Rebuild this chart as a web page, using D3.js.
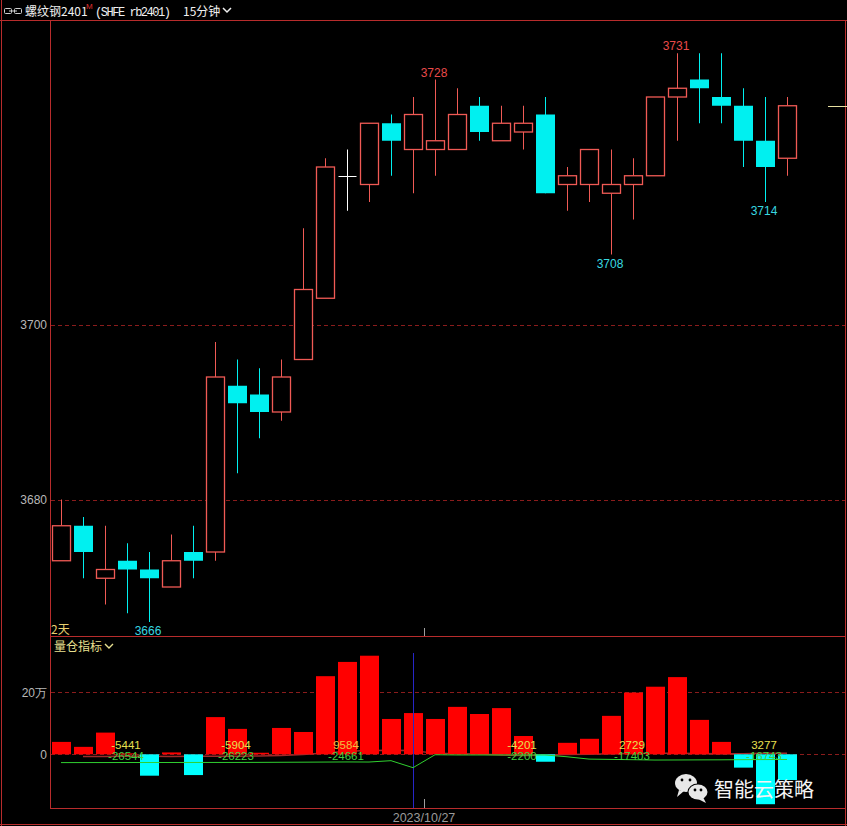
<!DOCTYPE html>
<html>
<head>
<meta charset="utf-8">
<script src="https://cdn.jsdelivr.net/npm/d3@7/dist/d3.min.js"></script>
<style>
html,body{margin:0;padding:0;background:#000;}
svg{display:block;}
</style>
</head>
<body>
<svg id="chart" width="847" height="826"></svg>
<script>
// ---------- data (15-minute bars, 螺纹钢2401) ----------
const open  = [3673,3677,3671,3673,3672,3670,3674,3674,3693,3692,3690,3696,3703,3717,3716,3723,3720,3720,3720,3725,3721,3722,3724,3716,3716,3715,3716,3717,3726,3728,3726,3725,3721,3719];
const close = [3677,3674,3672,3672,3671,3673,3673,3694,3691,3690,3694,3704,3718,3717,3723,3721,3724,3721,3724,3722,3723,3723,3715,3717,3720,3716,3717,3726,3727,3727,3725,3721,3718,3725];
const high  = [3680,3678,3677,3675,3674,3676,3677,3698,3696,3695,3696,3711,3719,3720,3723,3724,3726,3728,3727,3726,3725,3725,3726,3718,3720,3720,3719,3726,3731,3731,3731,3727,3726,3726];
const low   = [3673,3671,3668,3667,3666,3670,3671,3673,3683,3687,3689,3696,3703,3713,3714,3717,3715,3717,3720,3721,3721,3720,3715,3713,3714,3708,3712,3717,3721,3723,3723,3718,3714,3717];
// 仓差 bars
const oiChange = [40000,24000,70000,3000,-69000,6000,-67000,120000,82000,5000,85000,72000,252000,298000,318000,114000,133000,114000,153000,130000,149000,59000,-24000,37000,50000,124000,199000,218000,249000,111000,40000,-43000,-161000,-83000];
// indicator lines
const redLine   = [null,-7000,-7200,-5441,-6500,-6800,-6600,-6000,-5904,-5800,-4000,-1000,4000,9584,12000,13000,12000,3000,1500,1000,-2000,-4201,-3000,-1000,500,1500,2729,3000,3000,2500,2000,1500,3277,3000];
const greenLine = [-26800,-26700,-26650,-26544,-26500,-26450,-26400,-26300,-26223,-26000,-25700,-25400,-25000,-24661,-24900,-20600,-43200,-1500,-2200,-2200,-2200,-2200,-2200,-8000,-15500,-16500,-17403,-18500,-18300,-18000,-17800,-17300,-17000,-16743];
const priceTicks = [3680, 3700];
const oiTicks = [0, 200000];
const oiTickLabels = ["0", "20万"];
const lastPrice = 3725;
const dateLabel = "2023/10/27";
const dateTickIndex = 16.5;
const cursorIndex = 16;
// extreme price annotations: [index, value, type]
const priceMarks = [[4,3666,"low"],[17,3728,"high"],[25,3708,"low"],[28,3731,"high"],[32,3714,"low"]];
// indicator value labels: [index, text, series]
const oiLabels = [[3,"-5441","y"],[3,"-26544","g"],[8,"-5904","y"],[8,"-26223","g"],[13,"9584","o"],[13,"-24661","g"],[21,"-2200","g"],[21,"-4201","y"],[26,"2729","y"],[26,"-17403","g"],[32,"-16743","g"],[32,"3277","y"]];

// ---------- layout ----------
const svg = d3.select("#chart");
const W = 847, H = 826;
const left = 50, right = 845;
const mainTop = 20, mainBottom = 636, subBottom = 808;
const frame = "#b82c2c";
const grid = "#8a1c1c";
const upColor = "#f05a55", downColor = "#00f0f0";

const idx = d3.range(open.length);
const x = d3.scaleBand().domain(idx).range([left, left + idx.length * 22]).paddingInner(0.14).paddingOuter(0.07);
const cx = i => x(i) + x.bandwidth() / 2;
const xc = d3.scaleLinear().domain([0, idx.length - 1]).range([cx(0), cx(idx.length - 1)]);

const y = d3.scaleLinear().domain([3666, 3731]).range([622, 53.25]);
const yv = d3.scaleLinear().domain([0, 200000]).range([754.3, 692.3]);

svg.append("rect").attr("width", W).attr("height", H).attr("fill", "#000");

// frame
const fr = svg.append("g").attr("stroke", frame).attr("stroke-width", 1).attr("fill", "none");
fr.append("line").attr("x1", 1.5).attr("x2", 1.5).attr("y1", 0).attr("y2", H);
fr.append("line").attr("x1", 0).attr("x2", W).attr("y1", 20.5).attr("y2", 20.5);
fr.append("line").attr("x1", left + 0.5).attr("x2", left + 0.5).attr("y1", 20).attr("y2", subBottom);
fr.append("line").attr("x1", left).attr("x2", right).attr("y1", mainBottom + 0.5).attr("y2", mainBottom + 0.5);
fr.append("line").attr("x1", left).attr("x2", right).attr("y1", subBottom + 0.5).attr("y2", subBottom + 0.5);
fr.append("line").attr("x1", 0).attr("x2", W).attr("y1", H - 1.5).attr("y2", H - 1.5);
fr.append("line").attr("x1", right + 0.5).attr("x2", right + 0.5).attr("y1", 20).attr("y2", H);

// header
const hd = svg.append("g");
hd.append("rect").attr("x", 4.5).attr("y", 8.5).attr("width", 7).attr("height", 5).attr("rx", 1).attr("fill", "none").attr("stroke", "#d0d0d0");
hd.append("rect").attr("x", 14.5).attr("y", 8.5).attr("width", 7).attr("height", 5).attr("rx", 1).attr("fill", "none").attr("stroke", "#d0d0d0");
hd.append("line").attr("x1", 9).attr("x2", 17).attr("y1", 11).attr("y2", 11).attr("stroke", "#d0d0d0");
hd.append("text").attr("x", 25).attr("y", 16).attr("fill", "#f0f0f0").attr("font-family", "Noto Sans CJK SC, sans-serif").attr("font-size", 12).text("螺纹钢2401");
hd.append("text").attr("x", 86).attr("y", 9).attr("fill", "#e03030").attr("font-family", "Liberation Sans, sans-serif").attr("font-size", 8).text("M");
hd.append("text").attr("x", 95).attr("y", 16).attr("fill", "#f0f0f0").attr("font-family", "Liberation Mono, DejaVu Sans Mono, monospace").attr("font-size", 12).attr("textLength", 76).text("(SHFE rb2401)");
hd.append("text").attr("x", 183).attr("y", 16).attr("fill", "#f0f0f0").attr("font-family", "Noto Sans CJK SC, sans-serif").attr("font-size", 12).text("15分钟");
hd.append("path").attr("d", "M223,8 L227,12 L231,8").attr("fill", "none").attr("stroke", "#f0f0f0").attr("stroke-width", 1.5);

// grid lines + axis labels
const labelFont = "Liberation Sans, Arial, sans-serif";
priceTicks.forEach(t => {
  svg.append("line").attr("x1", left + 1).attr("x2", right).attr("y1", Math.round(y(t)) + 0.5).attr("y2", Math.round(y(t)) + 0.5)
    .attr("stroke", grid).attr("stroke-dasharray", "4,3");
  svg.append("text").attr("x", 47).attr("y", y(t) + 4.5).attr("text-anchor", "end").attr("fill", "#b8b8b8")
    .attr("font-family", labelFont).attr("font-size", 12).text(t);
});
oiTicks.forEach((t, k) => {
  svg.append("line").attr("x1", left + 1).attr("x2", right).attr("y1", Math.round(yv(t)) + 0.5).attr("y2", Math.round(yv(t)) + 0.5)
    .attr("stroke", grid).attr("stroke-dasharray", "4,3");
  svg.append("text").attr("x", 47).attr("y", yv(t) + 4.5).attr("text-anchor", "end").attr("fill", "#b8b8b8")
    .attr("font-family", labelFont).attr("font-size", 12).text(oiTickLabels[k]);
});

// candles
const cg = svg.append("g");
idx.forEach(i => {
  const o = open[i], c = close[i], h = high[i], l = low[i];
  const col = c > o ? upColor : (c < o ? downColor : "#ffffff");
  const xm = Math.round(cx(i)) + 0.5;
  const bx = Math.round(x(i)) + 0.5, bw = Math.round(x.bandwidth()) - 1;
  const top = y(Math.max(o, c)), bot = y(Math.min(o, c));
  if (c > o) {
    if (h > c) cg.append("line").attr("x1", xm).attr("x2", xm).attr("y1", y(h)).attr("y2", top).attr("stroke", col);
    if (l < o) cg.append("line").attr("x1", xm).attr("x2", xm).attr("y1", bot).attr("y2", y(l)).attr("stroke", col);
    cg.append("rect").attr("x", bx).attr("y", top).attr("width", bw).attr("height", bot - top)
      .attr("fill", "#000").attr("stroke", col).attr("stroke-width", 1.3);
  } else if (c < o) {
    cg.append("line").attr("x1", xm).attr("x2", xm).attr("y1", y(h)).attr("y2", y(l)).attr("stroke", col);
    cg.append("rect").attr("x", bx - 0.5).attr("y", top).attr("width", bw + 1).attr("height", bot - top).attr("fill", col);
  } else {
    cg.append("line").attr("x1", xm).attr("x2", xm).attr("y1", y(h)).attr("y2", y(l)).attr("stroke", col);
    cg.append("line").attr("x1", bx).attr("x2", bx + bw).attr("y1", Math.round(top) + 0.5).attr("y2", Math.round(top) + 0.5).attr("stroke", col);
  }
});

// last price marker
svg.append("line").attr("x1", 828).attr("x2", 847).attr("y1", Math.round(y(lastPrice)) + 0.5).attr("y2", Math.round(y(lastPrice)) + 0.5)
  .attr("stroke", "#e8e0a0");

// extreme labels
priceMarks.forEach(([i, v, t]) => {
  svg.append("text").attr("x", cx(i) - 1).attr("y", t === "high" ? y(v) - 3 : y(v) + 13)
    .attr("text-anchor", "middle").attr("fill", t === "high" ? "#e84a4a" : "#38d8e0")
    .attr("font-family", labelFont).attr("font-size", 12).text(v);
});
svg.append("text").attr("x", 51).attr("y", 634).attr("fill", "#e8d070").attr("font-family", "Noto Sans CJK SC, sans-serif").attr("font-size", 12).text("2天");

// date tick
const dtx = Math.round(xc(dateTickIndex)) + 0.5;
svg.append("line").attr("x1", dtx).attr("x2", dtx).attr("y1", 628).attr("y2", mainBottom).attr("stroke", "#a0a0a0");
svg.append("line").attr("x1", dtx).attr("x2", dtx).attr("y1", 799).attr("y2", subBottom).attr("stroke", "#a0a0a0");
svg.append("text").attr("x", xc(dateTickIndex)).attr("y", 822).attr("text-anchor", "middle").attr("fill", "#9a9a9a")
  .attr("font-family", labelFont).attr("font-size", 12.5).text(dateLabel);

// sub panel title
svg.append("text").attr("x", 54).attr("y", 651).attr("fill", "#e8e090").attr("font-family", "Noto Sans CJK SC, sans-serif").attr("font-size", 12).text("量仓指标");
svg.append("path").attr("d", "M105,644 L109,648 L113,644").attr("fill", "none").attr("stroke", "#e8e090").attr("stroke-width", 1.4);

// dark red indicator line (under bars)
svg.append("path").datum(redLine)
  .attr("d", d3.line().defined(d => d !== null).x((d, i) => cx(i)).y(d => yv(d)))
  .attr("fill", "none").attr("stroke", "#a02a2a").attr("stroke-width", 1.5);

// oi bars
svg.append("g").selectAll("rect").data(oiChange).join("rect")
  .attr("x", (d, i) => Math.round(x(i)))
  .attr("width", Math.round(x.bandwidth()))
  .attr("y", d => d >= 0 ? yv(d) : yv(0))
  .attr("height", d => Math.abs(yv(d) - yv(0)))
  .attr("fill", d => d >= 0 ? "#ff0000" : "#00ffff");

// cursor line
svg.append("line").attr("x1", Math.round(cx(cursorIndex)) + 0.5).attr("x2", Math.round(cx(cursorIndex)) + 0.5)
  .attr("y1", 653).attr("y2", subBottom).attr("stroke", "#2626c8").attr("stroke-width", 1);

// green line
svg.append("path").datum(greenLine)
  .attr("d", d3.line().x((d, i) => cx(i)).y(d => yv(d)))
  .attr("fill", "none").attr("stroke", "#30d030").attr("stroke-width", 1);

// indicator labels
const labColors = {y: "#e8e050", o: "#f0c040", g: "#40d040"};
oiLabels.forEach(([i, t, s]) => {
  const isG = s === "g";
  svg.append("text").attr("x", cx(i) - 1).attr("y", isG ? 760 : 749)
    .attr("text-anchor", "middle").attr("fill", labColors[s])
    .attr("font-family", labelFont).attr("font-size", 11.5).text(t);
});

// watermark
const wm = svg.append("g");
wm.append("ellipse").attr("cx", 686).attr("cy", 783).attr("rx", 11).attr("ry", 9).attr("fill", "#e8e8e8");
wm.append("path").attr("d", "M679,790 L677,797 L684,791 Z").attr("fill", "#e8e8e8");
wm.append("ellipse").attr("cx", 698).attr("cy", 792).attr("rx", 10.5).attr("ry", 8.5).attr("fill", "#000");
wm.append("ellipse").attr("cx", 698).attr("cy", 792).attr("rx", 9.5).attr("ry", 7.5).attr("fill", "#e8e8e8");
wm.append("path").attr("d", "M703,797 L706,803 L698,799 Z").attr("fill", "#e8e8e8");
[[682,780],[690,780],[695,790],[701,790]].forEach(([a, b]) => wm.append("circle").attr("cx", a).attr("cy", b).attr("r", 1.4).attr("fill", "#000"));
wm.append("text").attr("x", 714).attr("y", 797).attr("fill", "#f4f4f4").attr("font-family", "Noto Sans CJK SC, sans-serif")
  .attr("font-size", 20).text("智能云策略");
</script>
</body>
</html>
